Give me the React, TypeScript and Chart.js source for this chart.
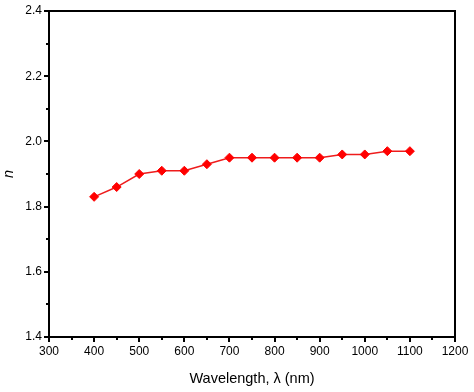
import React, { useEffect, useRef } from "react";
import { Chart, registerables } from "chart.js";

Chart.register(...registerables);

const wavelengths = [400, 450, 500, 550, 600, 650, 700, 750, 800, 850, 900, 950, 1000, 1050, 1100];
const nValues = [1.83, 1.86, 1.9, 1.91, 1.91, 1.93, 1.95, 1.95, 1.95, 1.95, 1.95, 1.96, 1.96, 1.97, 1.97];
const xMinorTicks = [350, 450, 550, 650, 750, 850, 950, 1050, 1150];
const yMinorTicks = [1.5, 1.7, 1.9, 2.1, 2.3];
const xTitle = "Wavelength, \u03bb (nm)";
const yTitle = "n";

const framePlugin = {
  id: "frameAndMinor",
  afterDraw(chart: any) {
    const { ctx, chartArea, scales } = chart;
    ctx.save();
    ctx.strokeStyle = "#000";
    ctx.lineWidth = 2;
    ctx.strokeRect(chartArea.left, chartArea.top, chartArea.right - chartArea.left, chartArea.bottom - chartArea.top);
    ctx.beginPath();
    for (const v of xMinorTicks) {
      const px = Math.round(scales.x.getPixelForValue(v));
      ctx.moveTo(px, chartArea.bottom);
      ctx.lineTo(px, chartArea.bottom + 3);
    }
    for (const v of yMinorTicks) {
      const py = Math.round(scales.y.getPixelForValue(v));
      ctx.moveTo(chartArea.left, py);
      ctx.lineTo(chartArea.left - 3, py);
    }
    ctx.stroke();
    ctx.restore();
  },
};

export default function App() {
  const ref = useRef<HTMLCanvasElement | null>(null);
  useEffect(() => {
    document.body.style.margin = "0";
    const chart = new Chart(ref.current as HTMLCanvasElement, {
      type: "line",
      data: {
        datasets: [
          {
            data: wavelengths.map((w, i) => ({ x: w, y: nValues[i] })),
            borderColor: "#ee1c1c",
            backgroundColor: "#ff0000",
            borderWidth: 1.5,
            pointStyle: "rectRot",
            pointRadius: 4.5,
            pointBorderWidth: 1,
            pointBorderColor: "#ff0000",
            pointBackgroundColor: "#ff0000",
            tension: 0,
          },
        ],
      },
      options: {
        animation: false,
        responsive: false,
        layout: { padding: { top: 11, right: 19, bottom: 0, left: 0 } },
        plugins: { legend: { display: false }, tooltip: { enabled: false } },
        scales: {
          x: {
            type: "linear",
            min: 300,
            max: 1200,
            afterFit: (s: any) => {
              s.height = 55;
            },
            ticks: {
              stepSize: 100,
              color: "#000",
              font: { family: "Liberation Sans, Arial", size: 12 },
              padding: 2,
              callback: (v: any) => String(v),
            },
            grid: { display: true, drawOnChartArea: false, color: "#000", lineWidth: 2, tickLength: 5 },
            border: { display: true, color: "#000", width: 2 },
            title: {
              display: true,
              text: xTitle,
              color: "#000",
              font: { family: "Liberation Sans, Arial", size: 14.5 },
              padding: { top: 4, bottom: 4 },
            },
          },
          y: {
            type: "linear",
            min: 1.4,
            max: 2.4,
            afterFit: (s: any) => {
              s.width = 49;
            },
            ticks: {
              stepSize: 0.2,
              color: "#000",
              font: { family: "Liberation Sans, Arial", size: 12 },
              padding: 2,
              callback: (v: any) => Number(v).toFixed(1),
            },
            grid: { display: true, drawOnChartArea: false, color: "#000", lineWidth: 2, tickLength: 5 },
            border: { display: true, color: "#000", width: 2 },
            title: {
              display: true,
              text: yTitle,
              color: "#000",
              font: { family: "Liberation Sans, Arial", size: 14.5, style: "italic" },
              padding: { top: 0, bottom: 0 },
            },
          },
        },
      },
      plugins: [framePlugin],
    } as any);
    return () => chart.destroy();
  }, []);
  return (
    <div style={{ position: "absolute", left: 0, top: 0, width: 474, height: 392, background: "#fff" }}>
      <canvas ref={ref} width={474} height={392} style={{ display: "block" }} />
    </div>
  );
}
